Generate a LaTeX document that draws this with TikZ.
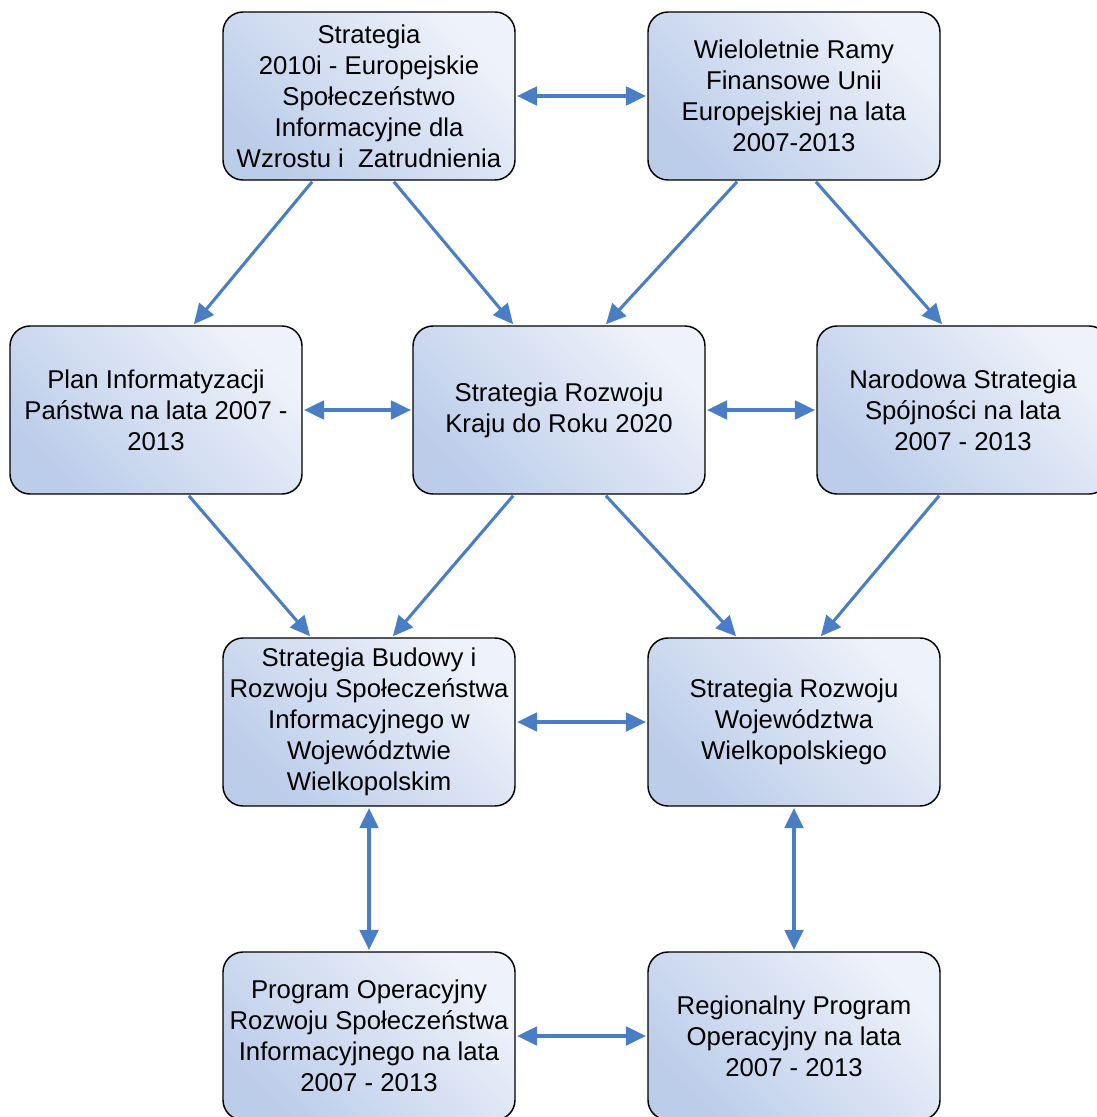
\documentclass[tikz,border=0pt]{standalone}
\usepackage{fontspec}
\setmainfont{Liberation Sans}
\usepackage{tikz}
\usetikzlibrary{arrows.meta}

\definecolor{boxdark}{RGB}{188,205,234}
\definecolor{boxlight}{RGB}{238,242,250}
\definecolor{arrblue}{RGB}{74,126,196}

\tikzset{
  docbox/.style={draw=black, line width=1.1pt, rounded corners=15pt,
    top color=boxlight, bottom color=boxdark, shading angle=-45,
    minimum width=219pt, minimum height=126pt, inner sep=0pt,
    align=center, font=\fontsize{19.3pt}{23.2pt}\selectfont},
  link/.style={draw=arrblue, line width=2.3pt,
    -{Triangle[length=15pt,width=14pt]}, shorten >=1pt, shorten <=1pt},
  twoway/.style={link, {Triangle[length=15pt,width=14pt]}-{Triangle[length=15pt,width=14pt]}}
}

\begin{document}
\begin{tikzpicture}[x=0.75pt,y=0.75pt,yscale=-1,xscale=1]
\useasboundingbox (0,0) rectangle (1096,1117);

% Boxes, top row
\node [docbox] (strat2010) at (369,96) {Strategia\\2010i - Europejskie\\Społeczeństwo\\Informacyjne dla\\Wzrostu i\ \ Zatrudnienia};
\node [docbox] (ramy) at (794,96) {Wieloletnie Ramy\\Finansowe Unii\\Europejskiej na lata\\2007-2013};
% middle row
\node [docbox] (plan) at (156,410) {Plan Informatyzacji\\Państwa na lata 2007 -\\2013};
\node [docbox] (kraj) at (559,410) {Strategia Rozwoju\\Kraju do Roku 2020};
\node [docbox] (nss) at (963,410) {Narodowa Strategia\\Spójności na lata\\2007 - 2013};
% regional row
\node [docbox] (budowa) at (369,722) {Strategia Budowy i\\Rozwoju Społeczeństwa\\Informacyjnego w\\Województwie\\Wielkopolskim};
\node [docbox] (woj) at (794,722) {Strategia Rozwoju\\Województwa\\Wielkopolskiego};
% programmes
\node [docbox] (poig) at (369,1036) {Program Operacyjny\\Rozwoju Społeczeństwa\\Informacyjnego na lata\\2007 - 2013};
\node [docbox] (rpo) at (794,1036) {Regionalny Program\\Operacyjny na lata\\2007 - 2013};

% Two-way links
\draw [twoway] (strat2010.east) -- (ramy.west);
\draw [twoway] (plan.east) -- (kraj.west);
\draw [twoway] (kraj.east) -- (nss.west);
\draw [twoway] (budowa.east) -- (woj.west);
\draw [twoway] (budowa.south) -- (poig.north);
\draw [twoway] (woj.south) -- (rpo.north);
\draw [twoway] (poig.east) -- (rpo.west);

% Downward links
\draw [link] ([xshift=-42pt]strat2010.south) -- ([xshift=27.75pt]plan.north);
\draw [link] ([xshift=18pt]strat2010.south) -- ([xshift=-33.75pt]kraj.north);
\draw [link] ([xshift=-42pt]ramy.south) -- ([xshift=34.5pt]kraj.north);
\draw [link] ([xshift=15.75pt]ramy.south) -- ([xshift=-15pt]nss.north);
\draw [link] ([xshift=24pt]plan.south) -- ([xshift=-43.5pt]budowa.north);
\draw [link] ([xshift=-33.75pt]kraj.south) -- ([xshift=17.25pt]budowa.north);
\draw [link] ([xshift=34.5pt]kraj.south) -- ([xshift=-42.75pt]woj.north);
\draw [link] ([xshift=-17.25pt]nss.south) -- ([xshift=19.5pt]woj.north);

\end{tikzpicture}
\end{document}
